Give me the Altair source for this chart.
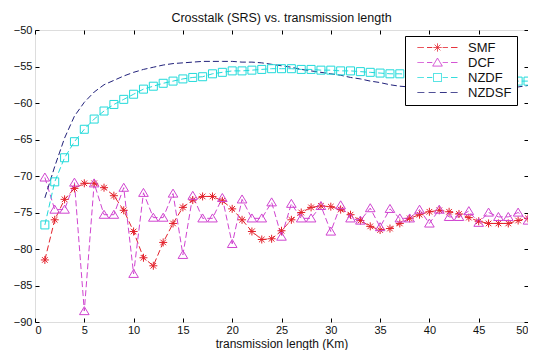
import altair as alt
import pandas as pd

x_km = list(range(1, 51))

smf = [-81.5, -76.0, -73.2, -71.7, -71.0, -71.0, -71.6, -72.7, -74.7, -77.6,
       -81.2, -82.3, -79.1, -76.5, -74.3, -73.3, -72.8, -72.8, -73.4, -74.5,
       -76.0, -77.6, -78.7, -78.6, -77.5, -76.0, -75.0, -74.3, -74.1, -74.2,
       -74.6, -75.3, -76.1, -76.9, -77.4, -77.2, -76.5, -75.8, -75.3, -74.9,
       -74.7, -74.9, -75.2, -75.7, -76.2, -76.5, -76.5, -76.5, -76.1, -75.8]

dcf = [-70.2, -74.6, -74.6, -70.9, -88.5, -71.0, -75.3, -75.3, -71.6, -83.4,
       -72.3, -75.7, -75.7, -72.4, -80.8, -72.7, -75.8, -75.8, -73.0, -79.3,
       -73.2, -75.8, -75.8, -73.6, -78.3, -73.8, -75.8, -75.8, -74.1, -77.6,
       -74.0, -75.8, -76.1, -74.4, -77.0, -74.5, -75.8, -75.8, -74.6, -76.5,
       -74.6, -75.6, -75.6, -74.8, -76.4, -75.0, -75.6, -75.6, -75.0, -76.1]

nzdf = [-76.7, -70.8, -67.5, -65.3, -63.6, -62.2, -61.1, -60.2, -59.5, -58.8,
        -58.1, -57.7, -57.3, -57.0, -56.7, -56.5, -56.4, -56.0, -55.8, -55.6,
        -55.6, -55.5, -55.4, -55.3, -55.3, -55.3, -55.4, -55.4, -55.5, -55.5,
        -55.6, -55.6, -55.7, -55.8, -55.9, -56.0, -56.0, -56.1, -56.2, -56.3,
        -56.4, -56.5, -56.6, -56.7, -56.8, -56.8, -56.9, -56.9, -57.0, -57.0]

nzdsf = [-73.0, -68.7, -64.8, -61.8, -59.9, -58.5, -57.5, -56.9, -56.3, -55.8,
         -55.4, -55.1, -54.8, -54.6, -54.5, -54.4, -54.3, -54.3, -54.3, -54.3,
         -54.4, -54.4, -54.5, -54.7, -54.9, -55.1, -55.4, -55.6, -55.8, -56.0,
         -56.2, -56.5, -56.7, -57.0, -57.2, -57.5, -57.7, -57.8, -57.9, -58.0,
         -58.0, -58.1, -58.1, -58.1, -58.1, -58.0, -58.0, -57.9, -57.8, -57.6]

series_names = ["SMF", "DCF", "NZDF", "NZDSF"]
marker_names = ["mSMF", "mDCF", "mNZDF"]
series_colors = ["#e3212b", "#d044d0", "#22dada", "#20207a"]
x_ticks = [0, 5, 10, 15, 20, 25, 30, 35, 40, 45, 50]
y_ticks = [-90, -85, -80, -75, -70, -65, -60, -55, -50]

rows = []
for name, vals in zip(series_names, [smf, dcf, nzdf, nzdsf]):
    for xv, yv in zip(x_km, vals):
        rows.append({"x": xv, "y": yv, "series": name, "marker": "m" + name})
df = pd.DataFrame(rows)

P_AST = "M-1,0L1,0M0,-1L0,1M-0.7,-0.7L0.7,0.7M-0.7,0.7L0.7,-0.7"
P_TRI = "M0,-1.1L1.2,0.9L-1.2,0.9Z"
P_SQ = "M-1,-1L1,-1L1,1L-1,1Z"
DASH_M = "M-5,0L-3.4,0M-2.6,0L-1.3,0M1.3,0L2.6,0M3.4,0L5,0"
DASH_N = "M-5,0L-3.3,0M-2.2,0L-0.5,0M0.6,0L2.3,0M3.3,0L5,0"

FONT = "Liberation Sans"

all_keys = series_names + marker_names
xs = alt.Scale(domain=[0, 50], nice=False)
ys = alt.Scale(domain=[-90, -50], nice=False)
color_scale = alt.Scale(domain=all_keys, range=series_colors + series_colors[:3])
shape_scale = alt.Scale(domain=all_keys,
                        range=[DASH_M + P_AST, DASH_M + P_TRI, DASH_M + P_SQ, DASH_N,
                               P_AST, P_TRI, P_SQ])

common_axis = dict(grid=False, domain=False, tickSize=4, offset=-4, tickColor="#000",
                   labelFont=FONT, labelFontSize=11, labelColor="#111")

x_bottom = alt.Axis(values=x_ticks, title="transmission length (Km)", orient="bottom",
                    labelPadding=2, titlePadding=3, titleFont=FONT, titleFontSize=12,
                    titleFontWeight="normal", titleColor="#111", **common_axis)
y_left = alt.Axis(values=y_ticks, title=None, orient="left", labelPadding=3, **common_axis)
x_top = alt.Axis(values=x_ticks, title=None, orient="top", labels=False, **common_axis)
y_right = alt.Axis(values=y_ticks, title=None, orient="right", labels=False, **common_axis)

def make_legend():
    return alt.Legend(
        title=None, orient="none", legendX=370, legendY=6, values=series_names,
        fillColor="white", strokeColor="black", padding=5, rowPadding=1,
        symbolSize=64, symbolStrokeWidth=1, symbolOffset=21, labelOffset=24,
        symbolOpacity=1, symbolFillColor="transparent", symbolDash=[1, 0],
        labelFont=FONT, labelFontSize=13, labelColor="#111",
    )

legend_layer = alt.Chart(df).transform_filter("datum.x == 1").mark_point(
    filled=False, strokeWidth=1, size=64, opacity=0
).encode(
    x=alt.X("x:Q", scale=xs, axis=None),
    y=alt.Y("y:Q", scale=ys, axis=None),
    color=alt.Color("series:N", scale=color_scale, legend=make_legend()),
    shape=alt.Shape("series:N", scale=shape_scale, legend=make_legend()),
)

lines = alt.Chart(df).mark_line(strokeWidth=1, strokeDash=[6, 3]).encode(
    x=alt.X("x:Q", scale=xs, axis=x_bottom),
    y=alt.Y("y:Q", scale=ys, axis=y_left),
    color=alt.Color("series:N", scale=color_scale, legend=make_legend()),
)

points = alt.Chart(df).transform_filter(
    "datum.series !== 'NZDSF'"
).mark_point(filled=False, strokeWidth=1, size=64, opacity=1).encode(
    x=alt.X("x:Q", scale=xs, axis=x_top),
    y=alt.Y("y:Q", scale=ys, axis=y_right),
    color=alt.Color("series:N", scale=color_scale, legend=make_legend()),
    shape=alt.Shape("marker:N", scale=shape_scale, legend=make_legend()),
)

chart = alt.layer(legend_layer, lines, points).resolve_axis(
    x="independent", y="independent"
).properties(
    width=493, height=292,
    title=alt.TitleParams("Crosstalk (SRS) vs. transmission length", font=FONT,
                          fontSize=12.5, fontWeight="normal", color="#111", offset=0),
    autosize=alt.AutoSizeParams(type="none"),
    padding={"left": 27, "top": 22, "right": 0, "bottom": 28},
).configure_view(stroke="black", strokeWidth=1).configure(background="white")

chart.save("out.html", embed_options={"renderer": "svg", "actions": False})
